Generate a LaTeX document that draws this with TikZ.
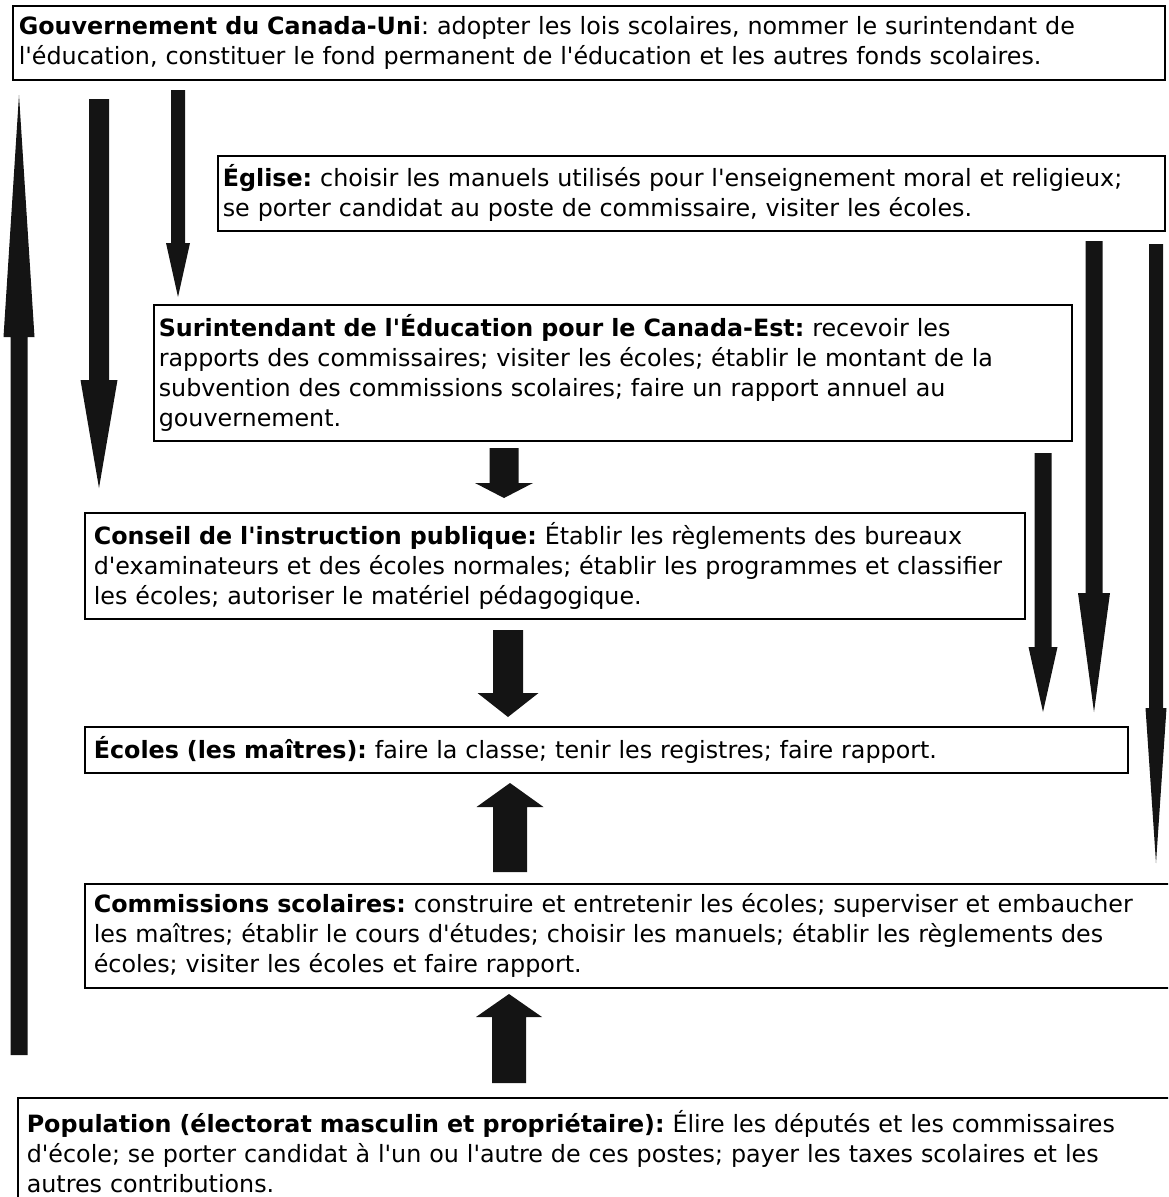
\documentclass[tikz,border=0pt]{standalone}
\usepackage{fontspec}
\setmainfont{DejaVu Sans}
\newcommand\ap{\textquotesingle}
\newcommand\blockarr[6]{% x, half shaft, half head, y tail, y head base, y tip
  \fill[arrowfill] ({#1-#2},{#4}) -- ({#1+#2},{#4}) -- ({#1+#2},{#5}) -- ({#1+#3},{#5})
    -- ({#1},{#6}) -- ({#1-#3},{#5}) -- ({#1-#2},{#5}) -- cycle;}
\begin{document}
\frenchspacing
\begin{tikzpicture}[x=1pt,y=-1pt,
  box/.style={draw, line width=1.6pt, rectangle, anchor=north west, inner ysep=0pt,
    align=left, font=\fontsize{23.8}{30}\selectfont\frenchspacing},
  arrowfill/.style={fill=black!92}]
\useasboundingbox (0,0) rectangle (1168,1197);
\clip (0,0) rectangle (1168,1197);

% boxes
\node[box, inner xsep=6pt, text width=1140pt, minimum height=74pt] (gov) at (12,5)
  {\textbf{Gouvernement du Canada-Uni}: adopter les lois scolaires, nommer le surintendant de\\
   l\ap{}éducation, constituer le fond permanent de l\ap{}éducation et les autres fonds scolaires.};
\node[box, inner xsep=5pt, text width=937pt, minimum height=75pt] (eglise) at (217,155)
  {\textbf{Église:} choisir les manuels utilisés pour l\ap{}enseignement moral et religieux;\\
   se porter candidat au poste de commissaire, visiter les écoles.};
\node[box, inner xsep=5pt, text width=908pt, minimum height=136pt] (surint) at (153,304)
  {\textbf{Surintendant de l\ap{}Éducation pour le Canada-Est:} recevoir les\\
   rapports des commissaires; visiter les écoles; établir le montant de la\\
   subvention des commissions scolaires; faire un rapport annuel au\\
   gouvernement.};
\node[box, inner xsep=9pt, text width=922pt, minimum height=106pt] (conseil) at (84,512)
  {\textbf{Conseil de l\ap{}instruction publique:} Établir les règlements des bureaux\\
   d\ap{}examinateurs et des écoles normales; établir les programmes et classifier\\
   les écoles; autoriser le matériel pédagogique.};
\node[box, inner xsep=9pt, text width=1025pt, minimum height=46pt] (ecoles) at (84,726)
  {\textbf{Écoles (les maîtres):} faire la classe; tenir les registres; faire rapport.};
\node[box, inner xsep=9pt, text width=1068pt, minimum height=104pt] (comm) at (84,883)
  {\textbf{Commissions scolaires:} construire et entretenir les écoles; superviser et embaucher\\
   les maîtres; établir le cours d\ap{}études; choisir les manuels; établir les règlements des\\
   écoles; visiter les écoles et faire rapport.};
\node[box, inner xsep=9pt, text width=1135pt, minimum height=108pt] (pop) at (17,1097)
  {\textbf{Population (électorat masculin et propriétaire):} Élire les députés et les commissaires\\
   d\ap{}école; se porter candidat à l\ap{}un ou l\ap{}autre de ces postes; payer les taxes scolaires et les\\
   autres contributions.};

% long arrows on the left
\blockarr{19}{8.5}{15.5}{1055}{337}{95}
\blockarr{99}{10}{18.5}{99}{380}{488}
\blockarr{178}{7}{12}{90}{243}{297}
% long arrows on the right
\blockarr{1094}{8.5}{16}{241}{593}{712}
\blockarr{1156}{7}{10.5}{244}{708}{863}
\blockarr{1043}{8.5}{14.5}{453}{647}{712}
% short arrows in the middle
\blockarr{504}{14.5}{29}{448}{483}{498}
\blockarr{508}{15}{30.5}{630}{693}{717}
\blockarr{510}{17}{33.5}{872}{807}{783}
\blockarr{509}{17}{33}{1083}{1017}{994}
\end{tikzpicture}
\end{document}
